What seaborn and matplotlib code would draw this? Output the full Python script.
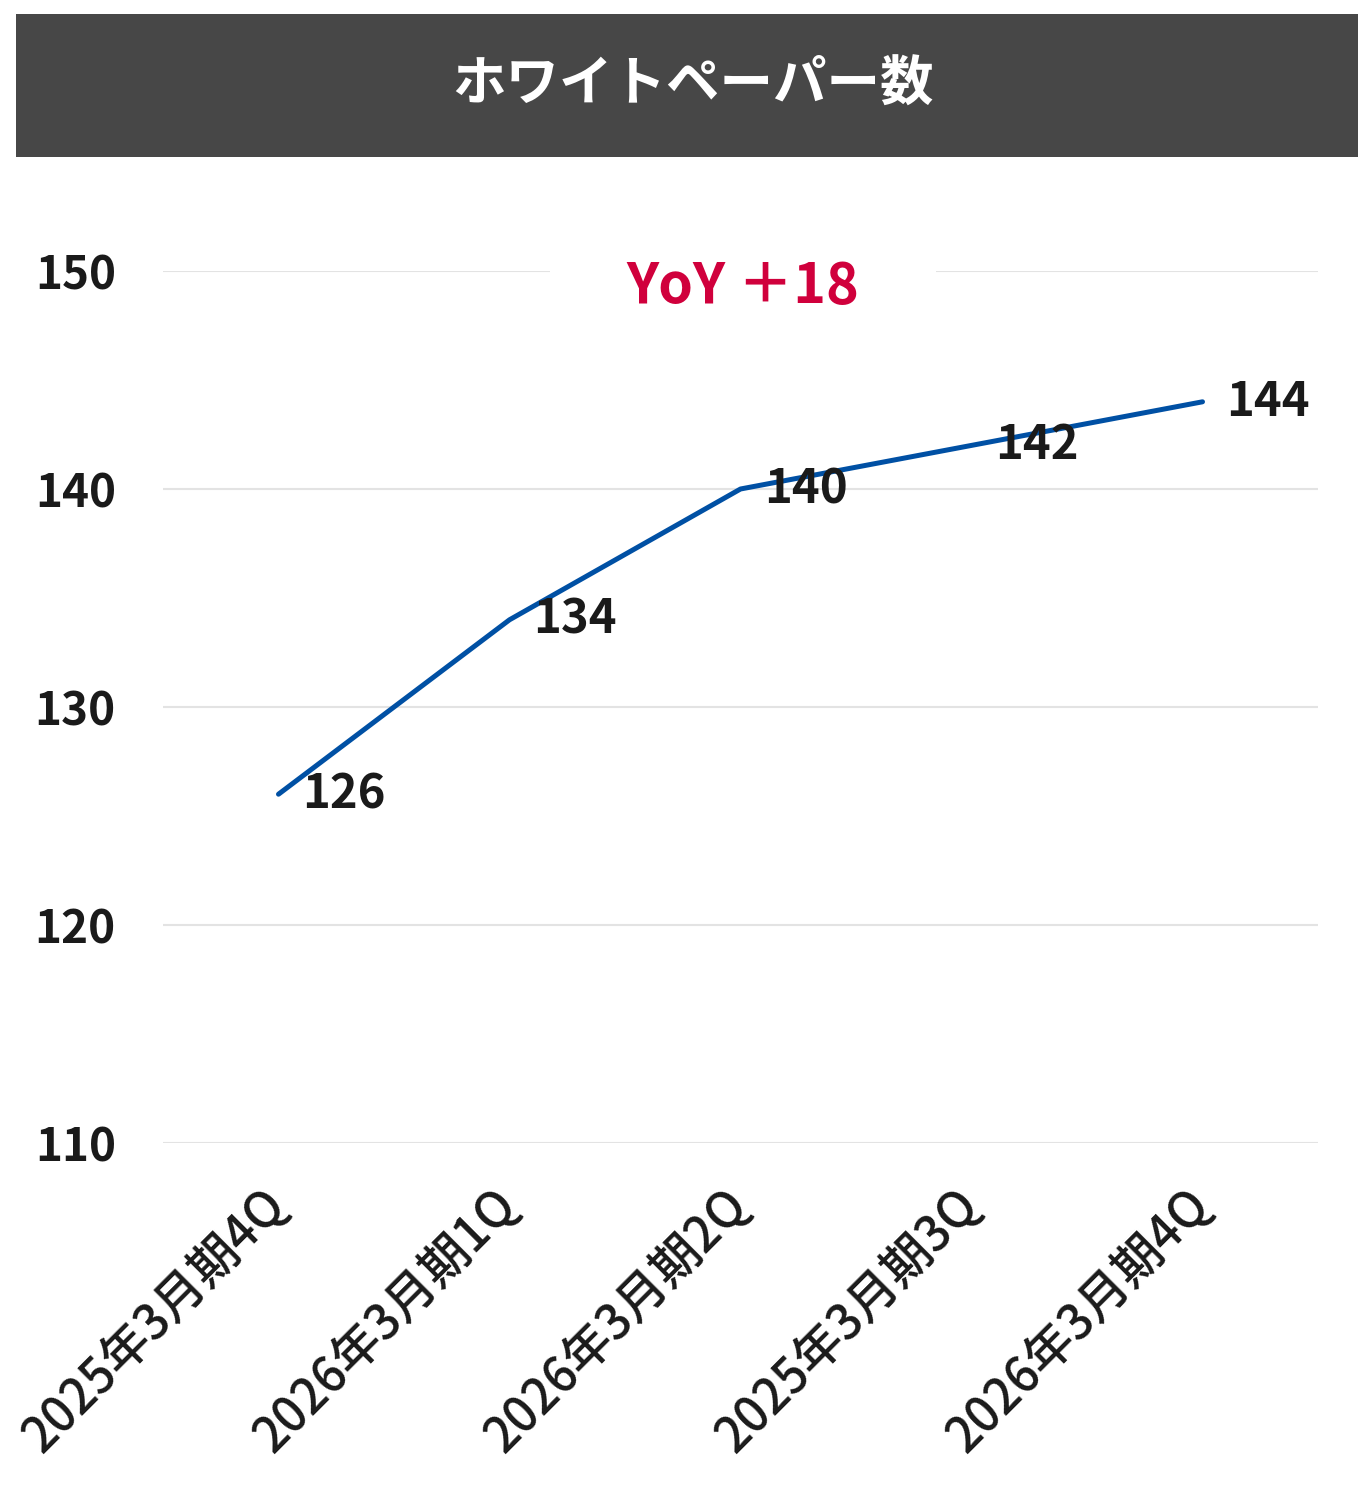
import matplotlib
matplotlib.use("Agg")
import matplotlib.pyplot as plt
from matplotlib.patches import Rectangle
import seaborn as sns
import pandas as pd

# Quarterly white paper counts
periods = ["2025年3月期4Q", "2026年3月期1Q", "2026年3月期2Q", "2025年3月期3Q", "2026年3月期4Q"]
counts = [126, 134, 140, 142, 144]
y_ticks = [110, 120, 130, 140, 150]
title = "ホワイトペーパー数"
yoy_label = "YoY ＋18"

sns.set_theme(style="white")
plt.rcParams["font.family"] = ["Noto Sans CJK JP", "DejaVu Sans"]

W, H = 1358, 1499
fig = plt.figure(figsize=(W / 100, H / 100), dpi=100)

# Header band
fig.patches.append(Rectangle((16 / W, 1 - 157 / H), (1358 - 16) / W, 143 / H,
                             transform=fig.transFigure, facecolor="#474747",
                             edgecolor="none", zorder=0))
fig.text(693 / W, 1 - 85 / H, title, color="white", fontsize=38.5, fontweight="bold",
         ha="center", va="center")

ax = fig.add_axes([163 / W, 1 - 1143 / H, (1318 - 163) / W, (1143 - 271) / H])

df = pd.DataFrame({"pos": range(len(periods)), "count": counts})
sns.lineplot(data=df, x="pos", y="count", sort=False, ax=ax,
             color="#0050A4", linewidth=3.6, zorder=3)

for i, v in enumerate(counts):
    ax.annotate(str(v), (i, v), xytext=(17, 0), textcoords="offset points",
                ha="left", va="center", fontsize=34, fontweight="bold",
                color="#1a1a1a", zorder=4)

ax.set_xlim(-0.5, len(periods) - 0.5)
ax.set_ylim(110, 150)
ax.set_yticks(y_ticks)
ax.set_xticks(range(len(periods)))
ax.set_xticklabels(periods, rotation=45, ha="right", va="center",
                   rotation_mode="anchor", fontsize=35, fontweight="medium",
                   color="#1a1a1a")
for lbl in ax.get_yticklabels():
    lbl.set_fontsize(33)
    lbl.set_fontweight("bold")
    lbl.set_color("#1a1a1a")
ax.tick_params(axis="y", length=0, pad=34)
ax.tick_params(axis="x", length=0, pad=40)
ax.set_xlabel("")
ax.set_ylabel("")
ax.grid(axis="y", color="#e3e3e3", linewidth=1.5)
ax.grid(axis="x", visible=False)
ax.set_axisbelow(True)
for s in ax.spines.values():
    s.set_visible(False)

fig.text(743 / W, 1 - 287 / H, yoy_label, color="#D0003C", fontsize=40,
         fontweight="bold", ha="center", va="center", zorder=5,
         bbox=dict(facecolor="white", edgecolor="none", pad=55))

fig.savefig("out.png", dpi=100, facecolor="white")
